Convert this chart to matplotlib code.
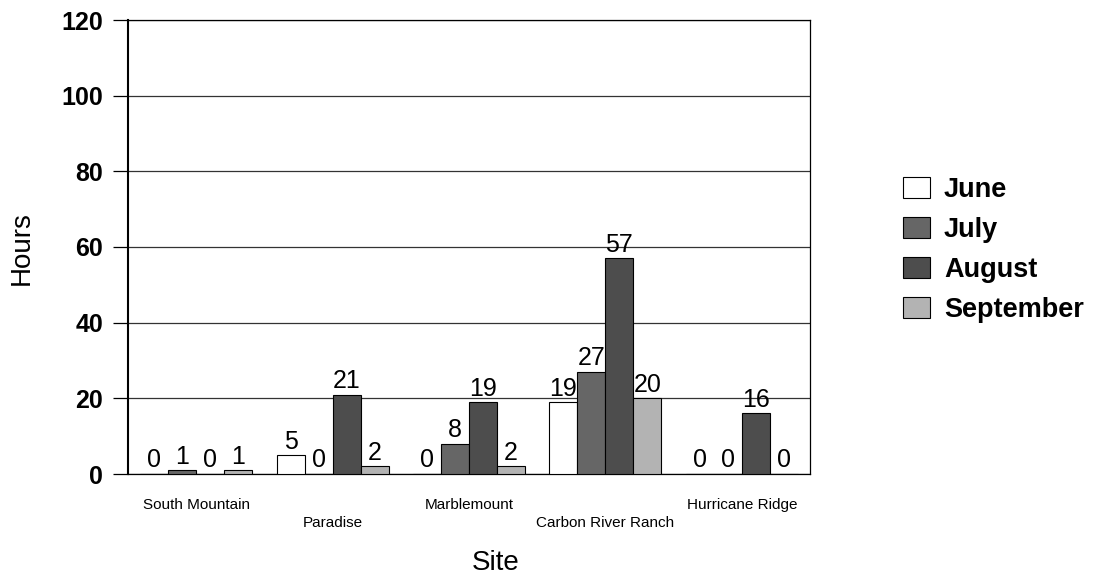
import matplotlib
matplotlib.use("Agg")
import matplotlib.pyplot as plt
import numpy as np

plt.rcParams['font.family'] = ['Liberation Sans', 'DejaVu Sans']

sites = ["South Mountain", "Paradise", "Marblemount", "Carbon River Ranch", "Hurricane Ridge"]
months = ["June", "July", "August", "September"]
june = [0, 5, 0, 19, 0]
july = [1, 0, 8, 27, 0]
august = [0, 21, 19, 57, 16]
september = [1, 2, 2, 20, 0]
colors = ["#ffffff", "#666666", "#4d4d4d", "#b3b3b3"]
yticks = [0, 20, 40, 60, 80, 100, 120]

fig = plt.figure(figsize=(10.95, 5.8), dpi=100)
ax = fig.add_axes([128/1095, 1-474/580, (810-128)/1095, (474-20)/580])

series = [june, july, august, september]
x = np.arange(len(sites))
w = 0.205
for i, (vals, c, m) in enumerate(zip(series, colors, months)):
    pos = x + (i - 1.5) * w
    ax.bar(pos, vals, width=w, color=c, edgecolor="black", linewidth=0.8, label=m, zorder=3)
    for p, v in zip(pos, vals):
        ax.text(p, v + 0.4, str(v), ha="center", va="bottom", fontsize=18, zorder=4)

ax.set_xlim(-0.5, len(sites) - 0.5)
ax.set_ylim(0, 120)
ax.set_yticks(yticks)
ax.set_yticklabels([str(t) for t in yticks], fontsize=18, fontweight="bold")
ax.yaxis.grid(True, color="#333333", linewidth=0.9, zorder=0)
ax.tick_params(axis="y", length=11, width=0.9, pad=7)
ax.set_xticks(x)
ax.set_xticklabels([])
ax.tick_params(axis="x", length=0)
for i, s in enumerate(sites):
    ax.annotate(s, xy=(i, 0), xycoords=("data", "axes fraction"),
                xytext=(0, -31 if i % 2 == 0 else -49), textcoords="offset pixels",
                ha="center", va="center", fontsize=11)

for sp in ax.spines.values():
    sp.set_color("black")
    sp.set_linewidth(0.9)
ax.spines["left"].set_linewidth(1.5)

fig.text(496/1095, 1-563/580, "Site", ha="center", va="center", fontsize=20)
fig.text(22/1095, 1-248/580, "Hours", ha="center", va="center", rotation=90, fontsize=20)

leg = fig.legend(loc="center left", bbox_to_anchor=(881/1095, 1-250/580), frameon=False,
                 prop={"size": 19.5, "weight": "bold"}, handlelength=1.0, handleheight=0.82,
                 handletextpad=0.52, labelspacing=0.52, borderpad=0.3)

fig.savefig("out.png", dpi=100)
